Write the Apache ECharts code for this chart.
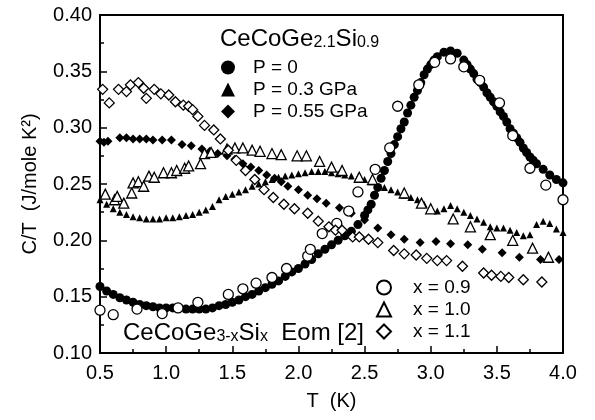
<!DOCTYPE html>
<html>
<head>
<meta charset="utf-8">
<script src="https://cdn.jsdelivr.net/npm/echarts@6/dist/echarts.min.js"></script>
<style>
html, body { margin: 0; padding: 0; background: #fff; }
#main { width: 595px; height: 420px; }
</style>
</head>
<body>
<div id="main"></div>
<script>
// 数据 [T (K), C/T (J/mole K^2)]
var xTicks = [0.5, 1.0, 1.5, 2.0, 2.5, 3.0, 3.5, 4.0];
var yTicks = [0.10, 0.15, 0.20, 0.25, 0.30, 0.35, 0.40];

// CeCoGe2.1Si0.9, P = 0
var p0 = [
	[0.50,0.159],[0.55,0.155],[0.60,0.152],[0.65,0.149],[0.70,0.147],[0.75,0.145],[0.80,0.143],[0.85,0.142],
	[0.90,0.141],[0.95,0.140],[1.00,0.140],[1.05,0.140],[1.10,0.140],[1.15,0.139],[1.20,0.139],[1.25,0.139],
	[1.30,0.139],[1.35,0.140],[1.40,0.142],[1.45,0.143],[1.50,0.145],[1.55,0.147],[1.60,0.150],[1.65,0.152],
	[1.70,0.155],[1.75,0.158],[1.80,0.161],[1.85,0.164],[1.90,0.168],[1.95,0.172],[2.00,0.175],[2.05,0.179],
	[2.10,0.183],[2.15,0.188],[2.20,0.192],[2.25,0.196],[2.30,0.200],[2.35,0.204],[2.40,0.208],[2.45,0.214],
	[2.50,0.222],[2.525,0.227],[2.55,0.232],[2.575,0.240],[2.60,0.247],[2.625,0.255],[2.65,0.262],[2.675,0.270],
	[2.70,0.277],[2.725,0.285],[2.75,0.292],[2.775,0.299],[2.80,0.305],[2.825,0.313],[2.85,0.320],[2.875,0.327],
	[2.90,0.333],[2.925,0.340],[2.95,0.347],[2.975,0.352],[3.00,0.356],[3.025,0.360],[3.05,0.363],[3.10,0.367],
	[3.15,0.368],[3.20,0.366],[3.25,0.360],[3.275,0.356],[3.30,0.352],[3.325,0.348],[3.35,0.343],[3.375,0.340],
	[3.40,0.336],[3.425,0.331],[3.45,0.327],[3.475,0.323],[3.50,0.319],[3.525,0.314],[3.55,0.310],[3.575,0.305],
	[3.60,0.299],[3.625,0.295],[3.65,0.291],[3.675,0.287],[3.70,0.282],[3.725,0.278],[3.75,0.274],[3.775,0.271],
	[3.80,0.268],[3.85,0.263],[3.90,0.258],[3.95,0.254],[4.00,0.251]
];
// P = 0.3 GPa
var p03 = [
	[0.50,0.236],[0.55,0.232],[0.60,0.228],[0.65,0.225],[0.70,0.223],[0.75,0.221],[0.80,0.220],[0.85,0.219],
	[0.90,0.219],[0.95,0.219],[1.00,0.220],[1.05,0.220],[1.10,0.221],[1.15,0.222],[1.20,0.223],[1.25,0.225],
	[1.30,0.227],[1.35,0.230],[1.40,0.236],[1.45,0.239],[1.50,0.241],[1.55,0.243],[1.60,0.245],[1.65,0.248],
	[1.70,0.250],[1.75,0.252],[1.80,0.254],[1.85,0.256],[1.90,0.257],[1.95,0.258],[2.00,0.259],[2.05,0.260],
	[2.10,0.261],[2.15,0.261],[2.20,0.261],[2.25,0.260],[2.30,0.259],[2.35,0.258],[2.40,0.257],[2.45,0.256],
	[2.50,0.254],[2.55,0.252],[2.65,0.247],[2.70,0.245],[2.75,0.243],[2.80,0.240],[2.85,0.238],[2.90,0.236],
	[2.95,0.232],[3.00,0.228],[3.05,0.226],[3.10,0.228],[3.15,0.231],[3.20,0.228],[3.25,0.225],[3.30,0.222],
	[3.35,0.219],[3.40,0.216],[3.45,0.212],[3.50,0.211],[3.55,0.211],[3.60,0.209],[3.65,0.207],[3.70,0.204],
	[3.75,0.205],[3.80,0.214],[3.85,0.217],[3.90,0.215],[3.95,0.210],[4.00,0.207]
];
// P = 0.55 GPa
var p055 = [
	[0.50,0.288],[0.53,0.287],[0.56,0.288],[0.65,0.291],[0.70,0.291],[0.75,0.290],[0.80,0.290],[0.85,0.290],
	[0.90,0.289],[0.97,0.289],[1.04,0.289],[1.12,0.285],[1.19,0.284],[1.27,0.281],[1.33,0.279],[1.39,0.277],
	[1.46,0.275],[1.52,0.272],[1.58,0.268],[1.64,0.265],[1.70,0.262],[1.76,0.258],[1.82,0.255],[1.87,0.252],
	[1.92,0.248],[2.00,0.245],[2.07,0.240],[2.14,0.237],[2.21,0.233],[2.31,0.229],[2.40,0.224],[2.50,0.218],
	[2.60,0.211],[2.70,0.205],[2.80,0.201],[2.92,0.198],[3.04,0.199],[3.15,0.197],[3.28,0.196],[3.39,0.192],
	[3.54,0.189],[3.67,0.185],[3.83,0.183],[3.97,0.183]
];
// CeCoGe3-xSix, Eom [2]
var x09 = [
	[0.50,0.138],[0.60,0.134],[0.78,0.139],[0.97,0.135],[1.09,0.140],[1.24,0.145],[1.47,0.152],[1.58,0.157],
	[1.68,0.162],[1.80,0.167],[1.91,0.175],[2.07,0.186],[2.09,0.192],[2.18,0.206],[2.29,0.215],[2.38,0.226],
	[2.45,0.243],[2.58,0.263],[2.69,0.282],[2.75,0.319],[2.91,0.338],[3.03,0.358],[3.15,0.361],[3.25,0.354],
	[3.37,0.342],[3.52,0.322],[3.62,0.293],[3.75,0.264],[3.87,0.249],[4.00,0.236]
];
var x10 = [
	[0.54,0.241],[0.61,0.236],[0.63,0.239],[0.68,0.233],[0.74,0.242],[0.75,0.251],[0.79,0.252],[0.83,0.248],
	[0.87,0.257],[0.91,0.256],[0.98,0.260],[1.04,0.260],[1.08,0.262],[1.14,0.264],[1.17,0.266],[1.26,0.268],
	[1.29,0.277],[1.34,0.278],[1.46,0.281],[1.52,0.282],[1.58,0.282],[1.65,0.280],[1.71,0.279],[1.80,0.277],
	[1.87,0.276],[1.99,0.275],[2.06,0.275],[2.16,0.270],[2.25,0.265],[2.33,0.262],[2.46,0.256],[2.56,0.254],
	[2.80,0.242],[2.93,0.233],[3.00,0.228],[3.17,0.219],[3.30,0.212],[3.45,0.205],[3.62,0.200],[3.77,0.193],
	[3.89,0.185]
];
var x11 = [
	[0.52,0.334],[0.57,0.322],[0.64,0.334],[0.70,0.332],[0.73,0.338],[0.79,0.340],[0.83,0.335],[0.85,0.326],
	[0.91,0.334],[0.96,0.330],[1.02,0.329],[1.07,0.323],[1.13,0.320],[1.17,0.319],[1.20,0.316],[1.24,0.310],
	[1.29,0.302],[1.36,0.298],[1.41,0.290],[1.47,0.280],[1.53,0.271],[1.60,0.262],[1.67,0.254],[1.74,0.245],
	[1.81,0.238],[1.89,0.232],[1.97,0.228],[2.07,0.224],[2.15,0.217],[2.23,0.212],[2.28,0.209],[2.33,0.209],
	[2.41,0.203],[2.46,0.203],[2.53,0.201],[2.60,0.198],[2.72,0.191],[2.80,0.188],[2.89,0.187],[2.97,0.184],
	[3.05,0.182],[3.12,0.182],[3.24,0.177],[3.40,0.171],[3.46,0.169],[3.53,0.168],[3.59,0.167],[3.70,0.165],
	[3.84,0.163]
];

var FONT = '"Liberation Sans", Arial, sans-serif';

function filled(name, symbol, size, data) {
	return {
		name: name, type: 'scatter', symbol: symbol, symbolSize: size, data: data,
		itemStyle: { color: '#000', opacity: 1 }
	};
}
function open(name, symbol, size, data) {
	return {
		name: name, type: 'scatter', symbol: symbol, symbolSize: size, data: data,
		itemStyle: { color: '#fff', borderColor: '#000', borderWidth: 1.3, opacity: 1 }
	};
}

// 上下标文字
var richText = {
	m: { fontSize: 24, lineHeight: 28, verticalAlign: 'bottom', fontWeight: 'normal', fontFamily: FONT, color: '#000' },
	s: { fontSize: 16, lineHeight: 13, verticalAlign: 'bottom', fontWeight: 'normal', fontFamily: FONT, color: '#000' }
};

var myChart = echarts.init(document.getElementById('main'));
var option = {
	backgroundColor: '#fff',
	animation: false,
	textStyle: { fontFamily: FONT, color: '#000' },
	title: [{
		text: '{m|CeCoGe}{s|2.1}{m|Si}{s|0.9}',
		left: 215, top: 18,
		textStyle: { fontWeight: 'normal', rich: richText }
	}, {
		text: '{m|CeCoGe}{s|3-x}{m|Si}{s|x}{m|  Eom [2]}',
		left: 118, top: 312,
		textStyle: { fontWeight: 'normal', rich: richText }
	}],
	legend: [{
		data: ['P = 0', 'P = 0.3 GPa', 'P = 0.55 GPa'],
		orient: 'vertical', left: 216, top: 53,
		itemWidth: 14, itemHeight: 14, itemGap: 3,
		textStyle: { fontSize: 19, fontFamily: FONT, color: '#000', padding: [0, 0, 0, 13] }
	}, {
		data: ['x = 0.9', 'x = 1.0', 'x = 1.1'],
		orient: 'vertical', left: 371, top: 273,
		itemWidth: 14, itemHeight: 14, itemGap: 3,
		textStyle: { fontSize: 19, fontFamily: FONT, color: '#000', padding: [0, 0, 0, 17] }
	}],
	grid: {
		left: 100, right: 32, top: 15, bottom: 67,
		show: true, borderColor: '#000', borderWidth: 2, backgroundColor: 'transparent'
	},
	xAxis: {
		type: 'value', min: 0.5, max: 4.0, interval: 0.5,
		name: 'T  (K)', nameLocation: 'middle', nameGap: 38,
		nameTextStyle: { fontSize: 20, fontFamily: FONT, color: '#000' },
		axisLine: { lineStyle: { color: '#000', width: 2 } },
		axisTick: { inside: true, length: 7, lineStyle: { color: '#000', width: 1.5 } },
		minorTick: { show: true, splitNumber: 2, length: 4, lineStyle: { color: '#000', width: 1.5 } },
		splitLine: { show: false },
		axisLabel: {
			fontSize: 20, color: '#000', fontFamily: FONT, margin: 10,
			formatter: function (v) { return v.toFixed(1); }
		}
	},
	yAxis: {
		type: 'value', min: 0.10, max: 0.40, interval: 0.05,
		name: 'C/T  (J/mole K²)', nameLocation: 'middle', nameGap: 60,
		nameTextStyle: { fontSize: 20, fontFamily: FONT, color: '#000' },
		axisLine: { show: true, lineStyle: { color: '#000', width: 2 } },
		axisTick: { inside: true, length: 7, lineStyle: { color: '#000', width: 1.5 } },
		minorTick: { show: true, splitNumber: 2, length: 4, lineStyle: { color: '#000', width: 1.5 } },
		splitLine: { show: false },
		axisLabel: {
			fontSize: 20, color: '#000', fontFamily: FONT, margin: 8,
			formatter: function (v) { return v.toFixed(2); }
		}
	},
	series: [
		filled('P = 0', 'circle', 9, p0),
		filled('P = 0.3 GPa', 'triangle', 7, p03),
		filled('P = 0.55 GPa', 'diamond', 9, p055),
		open('x = 0.9', 'circle', 10, x09),
		open('x = 1.0', 'triangle', 10, x10),
		open('x = 1.1', 'diamond', 10, x11)
	]
};
myChart.setOption(option);
</script>
</body>
</html>
